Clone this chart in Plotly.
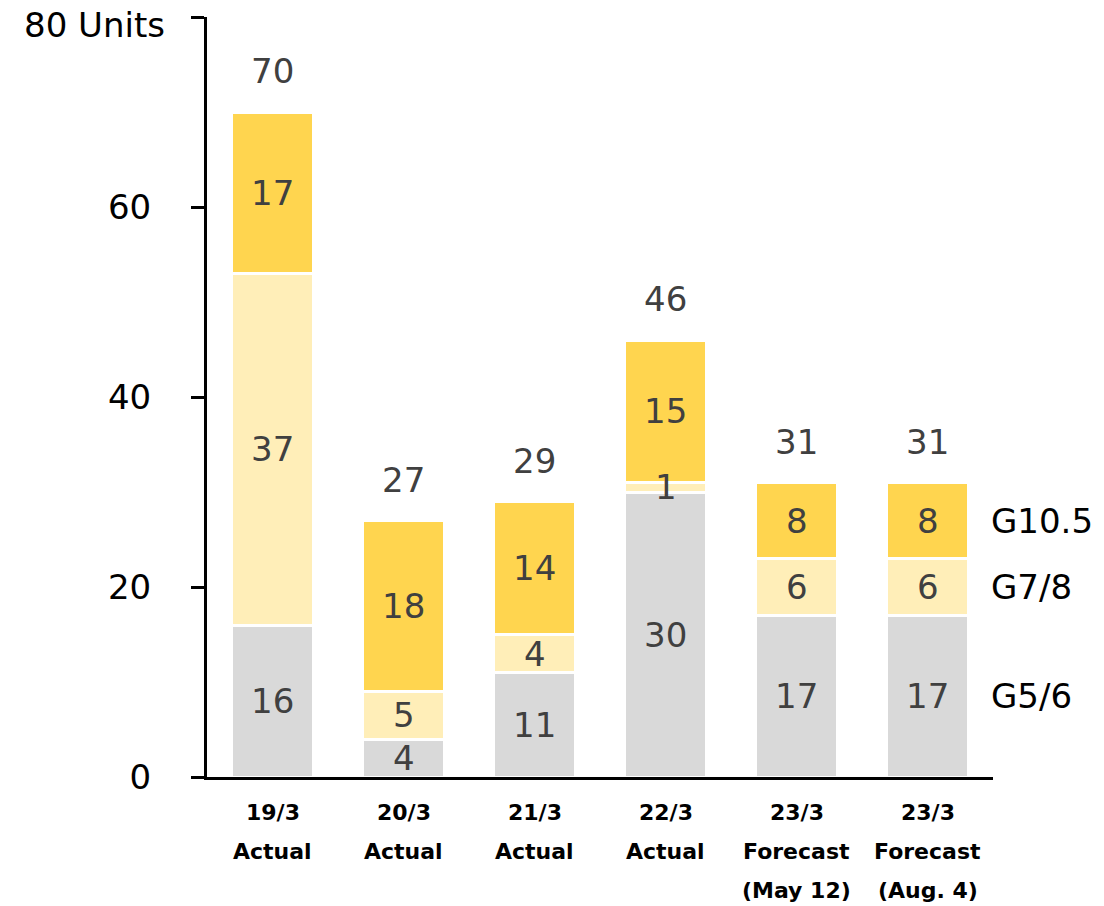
import plotly.graph_objects as go

# Periods (two label rows plus an optional third)
periods = ["19/3", "20/3", "21/3", "22/3", "23/3", "23/3"]
period_kind = ["Actual", "Actual", "Actual", "Actual", "Forecast", "Forecast"]
period_note = ["", "", "", "", "(May 12)", "(Aug. 4)"]

# Units by generation
g56 = [16, 4, 11, 30, 17, 17]
g78 = [37, 5, 4, 1, 6, 6]
g105 = [17, 18, 14, 15, 8, 8]
totals = [70, 27, 29, 46, 31, 31]

y_ticks = [0, 20, 40, 60]
y_top = 80
y_top_label = "80 Units"

series = [
    ("G5/6", g56, "#D9D9D9"),
    ("G7/8", g78, "#FFEEB8"),
    ("G10.5", g105, "#FFD54F"),
]

FONT = "DejaVu Sans"
LABEL_COLOR = "#404040"
xs = list(range(len(periods)))

fig = go.Figure()
for name, vals, color in series:
    fig.add_trace(go.Bar(
        x=xs, y=vals, name=name, width=0.63,
        marker=dict(color=color, line=dict(color="white", width=3)),
        showlegend=False,
    ))

annotations = []
# Segment value labels centred in each segment
base = [0] * len(xs)
for name, vals, color in series:
    for i, v in enumerate(vals):
        annotations.append(dict(
            x=i, y=base[i] + v / 2, xref="x", yref="y", text=str(v),
            showarrow=False, font=dict(family=FONT, size=34, color=LABEL_COLOR),
        ))
        base[i] += v

# Totals above each stack
for i, t in enumerate(totals):
    annotations.append(dict(
        x=i, y=t, xref="x", yref="y", text=str(t), yanchor="bottom", yshift=19,
        showarrow=False, font=dict(family=FONT, size=34, color=LABEL_COLOR),
    ))

# Series names beside the last stack
last = len(xs) - 1
cum = 0
for name, vals, color in series:
    annotations.append(dict(
        x=5.5, y=cum + vals[last] / 2, xref="x", yref="y", text=name,
        xanchor="left", xshift=-4, showarrow=False,
        font=dict(family=FONT, size=34, color="#000000"),
    ))
    cum += vals[last]

# Category labels, one row at a time
for i in xs:
    for row, txt in enumerate([periods[i], period_kind[i], period_note[i]]):
        if not txt:
            continue
        annotations.append(dict(
            x=i, y=0, xref="x", yref="paper", text="<b>%s</b>" % txt,
            yanchor="middle", yshift=-35 - 39 * row, showarrow=False,
            font=dict(family=FONT, size=22, color="#000000"),
        ))

# Top value of the y axis with its unit
annotations.append(dict(
    x=0, y=y_top, xref="paper", yref="y", text=y_top_label,
    xanchor="right", yanchor="middle", xshift=-40, yshift=-8, showarrow=False,
    font=dict(family=FONT, size=34, color="#000000"),
))

fig.update_layout(
    width=1104, height=906,
    margin=dict(l=207, r=111, t=17, b=129),
    plot_bgcolor="white", paper_bgcolor="white",
    barmode="stack",
    annotations=annotations,
    xaxis=dict(
        range=[-0.5, 5.5], showticklabels=False, ticks="",
        showline=True, linecolor="black", linewidth=3, showgrid=False, zeroline=False,
    ),
    yaxis=dict(
        range=[0, y_top], tickvals=y_ticks + [y_top],
        ticktext=[str(v) for v in y_ticks] + [""],
        ticks="outside", ticklen=13, tickwidth=3, tickcolor="black",
        ticklabelstandoff=33,
        showline=True, linecolor="black", linewidth=3, showgrid=False, zeroline=False,
        tickfont=dict(family=FONT, size=34, color="#000000"),
    ),
)

fig.write_html("out.html")
